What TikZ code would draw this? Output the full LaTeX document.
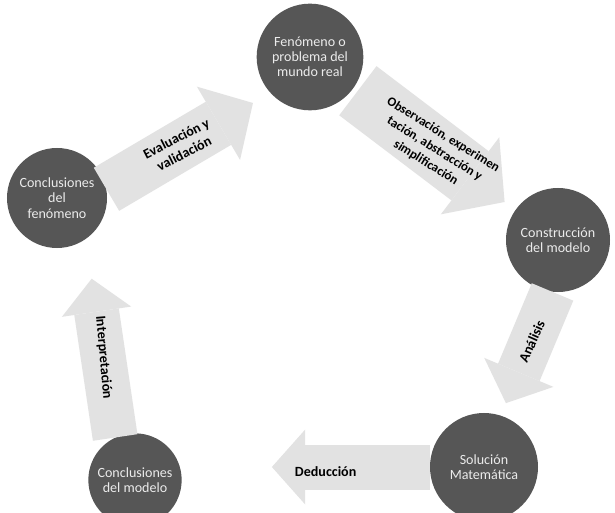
\documentclass[tikz,border=0pt]{standalone}
\usepackage{fontspec}
\setmainfont{Carlito}
\usetikzlibrary{arrows.meta}
\definecolor{bola}{HTML}{565656}
\definecolor{flecha}{HTML}{E2E2E2}
\begin{document}
\begin{tikzpicture}
[x=0.03cm,y=-0.03cm,
etapa/.style={circle,fill=bola,text=white!92!black,minimum size=#1,inner sep=0pt,
align=center,font=\fontsize{12}{13}\selectfont},
paso/.style n args={3}{draw=flecha,line width=#1,-{Triangle[width=#2,length=#3,line width=0pt]}},
rotulo/.style={text=black,inner sep=0pt,align=center,font=\bfseries\fontsize{12}{14.5}\selectfont}]
\fill[white] (0,0) rectangle (615,513);
\useasboundingbox (0,0) rectangle (615,513);

\node[etapa=3.2cm] (fen) at (310,57) {Fenómeno o\\problema del\\mundo real};
\node[etapa=3cm] (cfen) at (57,198) {Conclusiones\\del\\fenómeno};
\node[etapa=3.12cm] (cons) at (558,240) {Construcción\\del modelo};
\node[etapa=3.24cm] (sol) at (484,467) {Solución\\Matemática};
\node[etapa=2.8cm] (cmod) at (135,480) {Conclusiones\\del modelo};

\draw[paso={1.5cm}{2.55cm}{1.2cm},shorten >=0.6cm] (cfen.10)
-- node[rotulo,rotate=27,pos=0.45] {Evaluación y\\validación} (fen.222);
\draw[paso={1.85cm}{2.9cm}{1.3cm},shorten <=0.15cm,shorten >=0.4cm] (fen.325)
-- node[rotulo,rotate=-32,font=\bfseries\fontsize{11}{14}\selectfont]
{Observación, experimen\\tación, abstracción y\\simplificación} (cons.145);
\draw[paso={1.35cm}{2.25cm}{1cm},shorten >=0.4cm] (cons.264)
-- node[rotulo,rotate=66,pos=0.4] {Análisis} (sol.72);
\draw[paso={1.35cm}{2.25cm}{1cm},shorten >=2.7cm] (sol.west)
-- node[rotulo,pos=0.42,yshift=-4pt] {Deducción} (sol.west -| cmod.east);
\draw[paso={1.35cm}{2.1cm}{1cm},shorten >=1.2cm] (cmod.115)
-- node[rotulo,rotate=-85,pos=0.38,xshift=-4pt] {Interpretación} (cfen.305);
\end{tikzpicture}
\end{document}
